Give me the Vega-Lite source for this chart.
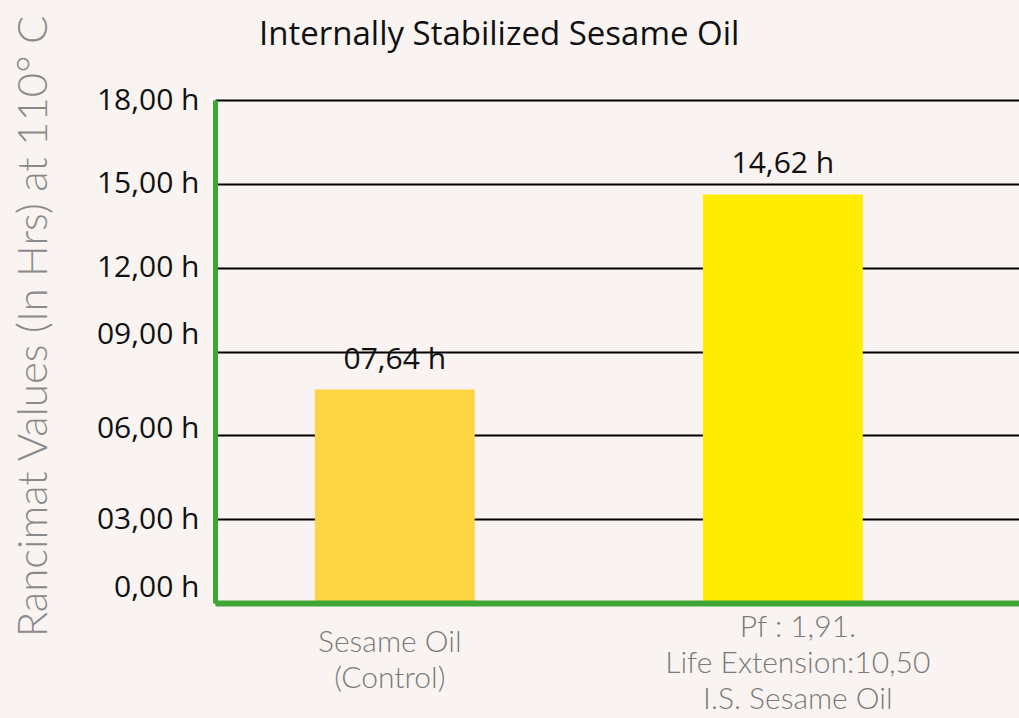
{
  "$schema": "https://vega.github.io/schema/vega-lite/v6.json",
  "width": 804,
  "height": 503,
  "autosize": {"type": "none"},
  "padding": {"left": 215, "top": 100, "right": 0, "bottom": 115},
  "background": "#f9f4f1",
  "title": {"text": "Internally Stabilized Sesame Oil", "anchor": "start", "dx": 247, "offset": 0, "dy": 43, "fontSize": 33, "font": "Open Sans", "fontWeight": "normal", "color": "#111111"},
  "data": {"values": [
    {"sample": "Sesame Oil|(Control)", "hours": 7.64, "label": "07,64 h"},
    {"sample": "Pf : 1,91.|Life Extension:10,50|I.S. Sesame Oil", "hours": 14.62, "label": "14,62 h"}
  ]},
  "encoding": {
    "x": {
      "field": "sample", "type": "nominal", "sort": null,
      "scale": {"paddingInner": 0.588, "paddingOuter": 0.33, "align": 0.39},
      "axis": {
        "title": null, "domain": true, "domainColor": "#3fa535", "domainWidth": 6, "ticks": false,
        "labelExpr": "split(datum.label, '|')", "labelFontSize": 30, "labelFont": "Lato", "labelFontWeight": 300,
        "labelColor": "#7a7a7a", "labelLineHeight": 36, "labelBaseline": "middle",
        "labelPadding": {"condition": {"test": "indexof(datum.label, 'Pf') == 0", "value": 24}, "value": 39},
        "labelOffset": {"condition": {"test": "indexof(datum.label, 'Pf') == 0", "value": 15}, "value": -5},
        "labelAngle": 0, "labelLimit": 0, "labelOverlap": false, "labelBound": false, "zindex": 1
      }
    },
    "y": {
      "field": "hours", "type": "quantitative",
      "scale": {"domain": [0, 18]},
      "axis": {
        "values": [0, 3, 6, 9, 12, 15, 18],
        "labelExpr": "datum.value == 0 ? '0,00 h' : (datum.value < 10 ? '0' : '') + datum.value + ',00 h'",
        "labelOffset": {"condition": [{"test": "datum.value == 0", "value": -16}, {"test": "datum.value == 9", "value": -17}, {"test": "datum.value == 6", "value": -7}], "value": 0},
        "grid": true, "gridColor": "#000000", "gridWidth": 2,
        "domainColor": "#3fa535", "domainWidth": 5, "ticks": false,
        "labelPadding": 16, "labelFontSize": 30, "labelFont": "Open Sans", "labelColor": "#111111",
        "title": "Rancimat Values (In Hrs)  at 110° C", "titleFontSize": 42, "titleFont": "Lato", "titleFontWeight": 300,
        "titleColor": "#8a8a8a", "titleX": -182, "titleY": 226, "titleAngle": -90, "titleAlign": "center", "titleBaseline": "middle"
      }
    }
  },
  "layer": [
    {
      "mark": {"type": "bar"},
      "encoding": {
        "color": {
          "field": "sample", "type": "nominal", "legend": null,
          "scale": {"domain": ["Sesame Oil|(Control)", "Pf : 1,91.|Life Extension:10,50|I.S. Sesame Oil"], "range": ["#fdd444", "#ffec00"]}
        }
      }
    },
    {
      "mark": {"type": "text", "dy": -30, "fontSize": 30, "font": "Open Sans", "color": "#111111"},
      "encoding": {"text": {"field": "label"}}
    }
  ]
}
